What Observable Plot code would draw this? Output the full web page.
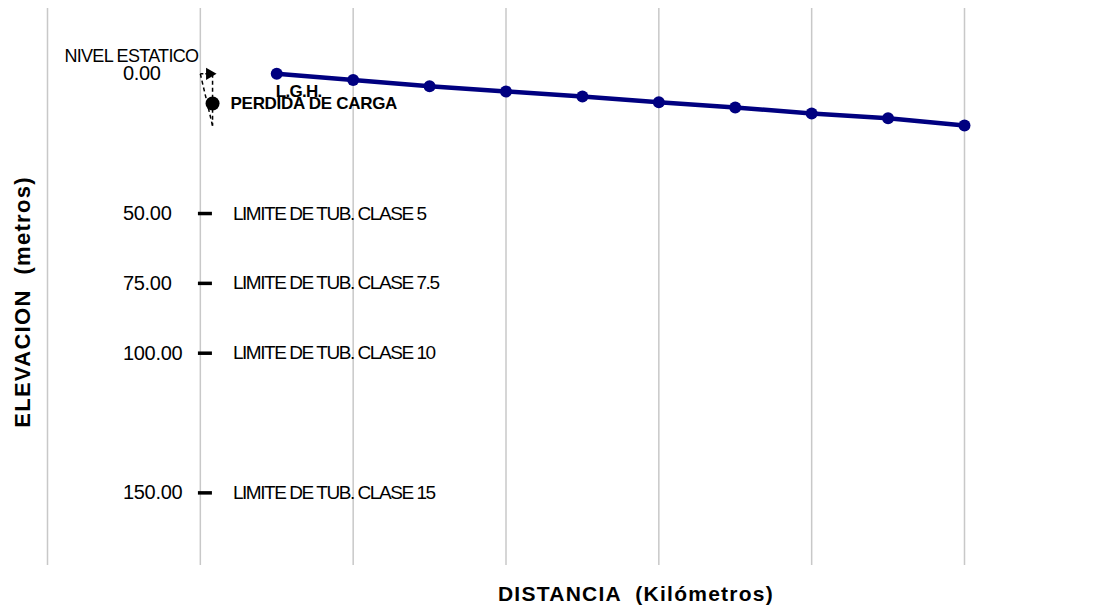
<!DOCTYPE html>
<html>
<head>
<meta charset="utf-8">
<script src="https://cdn.jsdelivr.net/npm/d3@7"></script>
<script src="https://cdn.jsdelivr.net/npm/@observablehq/plot@0.6"></script>
<style>
  html, body { margin: 0; padding: 0; background: #fff; }
  svg text { white-space: pre; }
  g[aria-description="ticklabels"] text { letter-spacing: -0.3px; }
  g[aria-description="limites"] text { letter-spacing: -1.45px; }
  g[aria-description="nivel"] text { letter-spacing: -0.7px; }
  g[aria-description="perdida"] text { letter-spacing: -0.3px; }
  g[aria-description="lgh"] text { letter-spacing: -0.7px; }
  g[aria-description="ytitle"] text { letter-spacing: 1.3px; }
  g[aria-description="xtitle"] text { letter-spacing: 1.25px; }
</style>
</head>
<body>
<div id="chart"></div>
<script>
// ---- data ----
const distancia = [1.5, 2, 2.5, 3, 3.5, 4, 4.5, 5, 5.5, 6];          // km
const elevacionLGH = [0, 2.2, 4.4, 6.3, 8.1, 10.2, 12.0, 14.2, 15.9, 18.5]; // m (downwards)
const gridKm = [0, 1, 2, 3, 4, 5, 6];
const elevTicks = [0, 50, 75, 100, 150];
const limiteElev = [50, 75, 100, 150];
const limiteTexto = ["LIMITE DE TUB. CLASE 5", "LIMITE DE TUB. CLASE 7.5", "LIMITE DE TUB. CLASE 10", "LIMITE DE TUB. CLASE 15"];
const limiteKm = 1.03;
const nivelEstatico = 0;
const nivelKm = 1.0;
const perdidaKm = 1.08;
const perdidaElev = 10.6;
const perdidaTotal = 18.6;

const lgh = distancia.map((d, i) => ({d, e: elevacionLGH[i]}));
const limites = limiteElev.map((e, i) => ({e, t: limiteTexto[i]}));

const font = "'Liberation Sans', Arial, Helvetica, sans-serif";
const dash = {draw(ctx, size) { const r = Math.sqrt(size / Math.PI); ctx.moveTo(-r, 0); ctx.lineTo(r, 0); }};

const chart = Plot.plot({
  width: 1107,
  height: 607,
  marginTop: 8,
  marginBottom: 42,
  marginLeft: 47,
  marginRight: 143,
  style: {fontFamily: font, background: "#fff"},
  x: {domain: [0, 6], axis: null},
  y: {domain: [-23.4, 176], reverse: true, axis: null},
  marks: [
    Plot.ruleX(gridKm, {x: d => d, stroke: "#c8c8c8", strokeWidth: 1.5}),
    // static level arrow and head-loss indicators
    Plot.link([nivelEstatico], {x1: () => nivelKm, y1: d => d, x2: () => perdidaKm, y2: d => d,
      stroke: "black", strokeWidth: 1.5, strokeDasharray: "3,2"}),
    Plot.dot([nivelEstatico], {x: () => perdidaKm, y: d => d, symbol: "triangle", rotate: 90, r: 4.5, dx: -3,
      fill: "black", stroke: "none"}),
    Plot.link([perdidaTotal], {x1: () => perdidaKm, y1: () => nivelEstatico, x2: () => perdidaKm, y2: d => d,
      stroke: "black", strokeWidth: 1.5, strokeDasharray: "4,3"}),
    Plot.link([perdidaTotal], {x1: () => nivelKm, y1: () => nivelEstatico, x2: () => perdidaKm, y2: d => d,
      stroke: "black", strokeWidth: 1.5, strokeDasharray: "4,3"}),
    Plot.dot([perdidaElev], {x: () => perdidaKm, y: d => d, r: 7, fill: "black"}),
    // pipe class limit markers
    Plot.dot(limiteElev, {x: () => limiteKm, y: d => d, r: 7, symbol: dash, stroke: "black", strokeWidth: 3.5, fill: "none"}),
    // L.G.H. line
    Plot.line(lgh, {x: "d", y: "e", stroke: "#000080", strokeWidth: 4.5}),
    Plot.dot(lgh, {x: "d", y: "e", r: 6, fill: "#000080"}),
    // texts
    Plot.text(elevTicks, {x: () => limiteKm, y: d => d, text: d => d.toFixed(2), textAnchor: "start", dx: -82,
      fontSize: 20, fill: "black", ariaDescription: "ticklabels"}),
    Plot.text(limites, {x: () => limiteKm, y: "e", text: "t", textAnchor: "start", dx: 28,
      fontSize: 19, fill: "black", ariaDescription: "limites"}),
    Plot.text(["NIVEL ESTATICO"], {x: () => nivelKm, y: () => nivelEstatico, text: d => d, textAnchor: "end", dx: -2, dy: -18,
      fontSize: 18, fill: "black", ariaDescription: "nivel"}),
    Plot.text(["PERDIDA DE CARGA"], {x: () => perdidaKm, y: () => perdidaElev, text: d => d, textAnchor: "start", dx: 18,
      fontSize: 17, fontWeight: "bold", fill: "black", ariaDescription: "perdida"}),
    Plot.text(["L.G.H."], {x: () => distancia[0], y: () => elevacionLGH[0], text: d => d, textAnchor: "start", dx: -1, dy: 18,
      fontSize: 17, fontWeight: "bold", fill: "black", ariaDescription: "lgh"}),
    Plot.text(["ELEVACION  (metros)"], {frameAnchor: "left", text: d => d, rotate: -90, textAnchor: "middle", lineAnchor: "middle",
      dx: -25, dy: 15, fontSize: 22, fontWeight: "bold", fill: "black", ariaDescription: "ytitle"}),
    Plot.text(["DISTANCIA  (Kilómetros)"], {frameAnchor: "bottom", text: d => d, textAnchor: "middle", lineAnchor: "middle",
      dx: 130, dy: 29, fontSize: 21, fontWeight: "bold", fill: "black", ariaDescription: "xtitle"})
  ]
});
document.getElementById("chart").appendChild(chart);
</script>
</body>
</html>
